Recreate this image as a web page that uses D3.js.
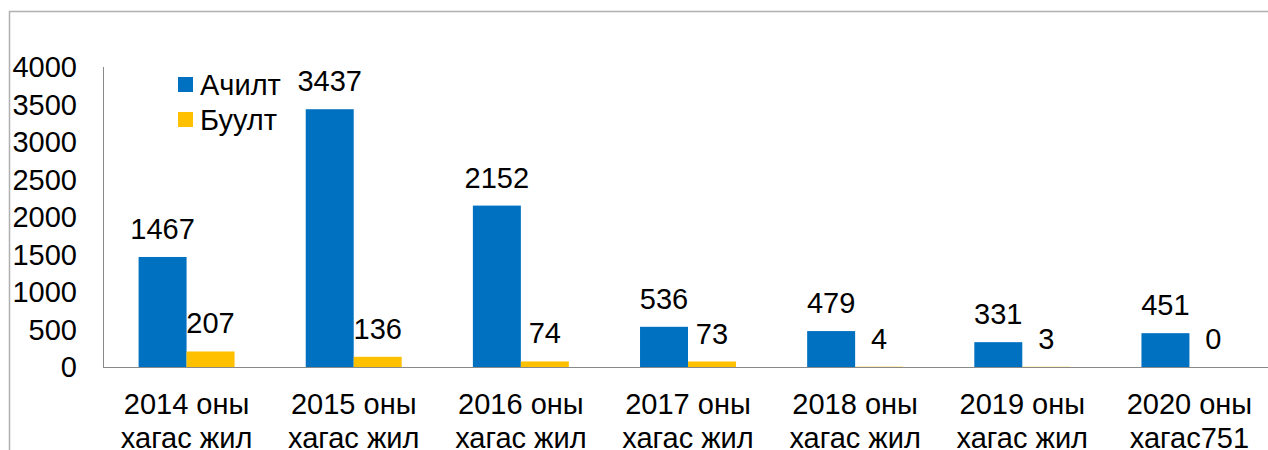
<!DOCTYPE html>
<html>
<head>
<meta charset="utf-8">
<script src="https://d3js.org/d3.v7.min.js"></script>
<style>
  body { margin: 0; background: #fff; }
  text { font-family: "Liberation Sans", Arial, sans-serif; fill: #000; }
</style>
</head>
<body>
<script>
// chart data
const categories = ["2014 оны|хагас жил", "2015 оны|хагас жил", "2016 оны|хагас жил",
  "2017 оны|хагас жил", "2018 оны|хагас жил", "2019 оны|хагас жил", "2020 оны|хагас751"];
const seriesNames = ["Ачилт", "Буулт"];
const achilt = [1467, 3437, 2152, 536, 479, 331, 451];
const buult = [207, 136, 74, 73, 4, 3, 0];
const yTicks = [0, 500, 1000, 1500, 2000, 2500, 3000, 3500, 4000];
const colours = ["#0070c0", "#ffc000"];

const W = 1268, H = 450;
const plot = {left: 103, right: 1273, top: 67, bottom: 367};
const fs = 29;

const svg = d3.select("body").append("svg")
  .attr("width", W).attr("height", H);

// outer chart border (only top and left visible)
svg.append("path")
  .attr("d", "M9.5," + (H + 5) + "V11.5H" + (W + 5))
  .attr("fill", "none").attr("stroke", "#b0b0b0").attr("stroke-width", 1.5);

const x0 = d3.scaleBand().domain(categories).range([plot.left, plot.right])
  .paddingInner(0).paddingOuter(0);
const x1 = d3.scaleBand().domain(seriesNames).range([0, x0.bandwidth()])
  .paddingInner(0).paddingOuter(0.742);
const y = d3.scaleLinear().domain([0, 4000]).range([plot.bottom, plot.top]);

// y axis labels
svg.append("g").selectAll("text")
  .data(yTicks).join("text")
  .attr("x", 77).attr("y", d => y(d))
  .attr("dy", "0.36em")
  .attr("text-anchor", "end")
  .attr("font-size", fs)
  .text(d => d);

const rows = categories.map((c, i) => ({cat: c, vals: [achilt[i], buult[i]]}));

// bars
const groups = svg.append("g").selectAll("g")
  .data(rows).join("g")
  .attr("transform", d => "translate(" + x0(d.cat) + ",0)");

groups.selectAll("rect")
  .data(d => d.vals.map((v, j) => ({key: seriesNames[j], v: v, j: j})))
  .join("rect")
  .attr("x", d => x1(d.key))
  .attr("width", x1.bandwidth())
  .attr("y", d => y(d.v))
  .attr("height", d => y(0) - y(d.v))
  .attr("fill", d => colours[d.j]);

groups.selectAll("text.val")
  .data(d => d.vals.map((v, j) => ({key: seriesNames[j], v: v, j: j})))
  .join("text")
  .attr("class", "val")
  .attr("x", d => x1(d.key) + x1.bandwidth() / 2)
  .attr("y", d => y(d.v) - 18)
  .attr("text-anchor", "middle")
  .attr("font-size", fs)
  .text(d => d.v);

// axis lines
svg.append("line")
  .attr("x1", plot.left + 0.5).attr("x2", plot.left + 0.5)
  .attr("y1", plot.top).attr("y2", plot.bottom)
  .attr("stroke", "#898989").attr("stroke-width", 1);
svg.append("line")
  .attr("x1", plot.left).attr("x2", W)
  .attr("y1", plot.bottom + 0.5).attr("y2", plot.bottom + 0.5)
  .attr("stroke", "#898989").attr("stroke-width", 1);

// category labels
const catText = svg.append("g").selectAll("text")
  .data(categories).join("text")
  .attr("text-anchor", "middle")
  .attr("font-size", fs)
  .attr("transform", d => "translate(" + (x0(d) + x0.bandwidth() / 2) + ",414)");
catText.selectAll("tspan")
  .data(d => d.split("|")).join("tspan")
  .attr("x", 0)
  .attr("y", (d, i) => i * 34)
  .text(d => d);

// legend
const legend = svg.append("g").selectAll("g")
  .data(seriesNames).join("g")
  .attr("transform", (d, i) => "translate(178," + (77 + i * 35) + ")");
legend.append("rect")
  .attr("width", 15).attr("height", 15)
  .attr("fill", (d, i) => colours[i]);
legend.append("text")
  .attr("x", 22).attr("y", 7.5).attr("dy", "0.36em")
  .attr("font-size", fs)
  .text(d => d);
</script>
</body>
</html>
